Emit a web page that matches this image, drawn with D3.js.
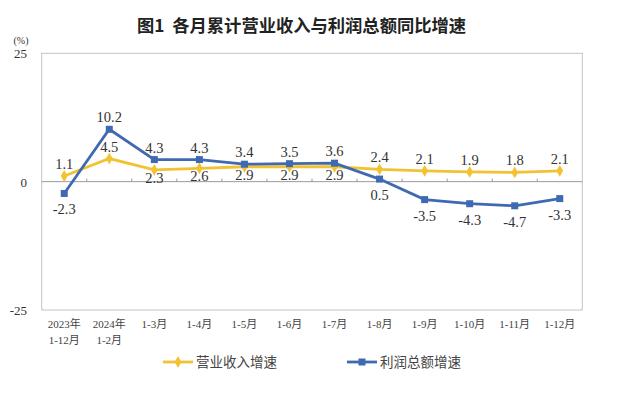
<!DOCTYPE html>
<html lang="zh">
<head>
<meta charset="utf-8">
<title>各月累计营业收入与利润总额同比增速</title>
<script src="https://cdn.jsdelivr.net/npm/d3@7/dist/d3.min.js"></script>
<style>
  body { margin: 0; background: #fff; }
  svg { display: block; }
  .title { font-family: "Noto Sans CJK SC", sans-serif; font-size: 17.3px; font-weight: 700; fill: #222; white-space: pre; }
  .num { font-family: "Liberation Serif", "DejaVu Serif", serif; fill: #333; }
  .cat { font-family: "Liberation Serif", "Noto Sans CJK SC", serif; font-size: 11px; fill: #444; }
  .leg { font-family: "Liberation Serif", "Noto Sans CJK SC", serif; font-size: 13.5px; fill: #444; }
</style>
</head>
<body>
<svg width="623" height="393"></svg>
<script>
// categories (two-line labels)
var categories = ["2023年\n1-12月", "2024年\n1-2月", "1-3月", "1-4月", "1-5月", "1-6月",
                  "1-7月", "1-8月", "1-9月", "1-10月", "1-11月", "1-12月"];
var revenue = [1.1, 4.5, 2.3, 2.6, 2.9, 2.9, 2.9, 2.4, 2.1, 1.9, 1.8, 2.1];
var profit  = [-2.3, 10.2, 4.3, 4.3, 3.4, 3.5, 3.6, 0.5, -3.5, -4.3, -4.7, -3.3];
var yTicks = [-25, 0, 25];
var seriesNames = ["营业收入增速", "利润总额增速"];

var yellow = "#f2c232", blue = "#3f6ab2";

var svg = d3.select("svg");
var plotL = 41.7, plotR = 582.3, plotT = 53.3, plotB = 310;

var x = d3.scaleBand().domain(categories).range([plotL, plotR]);
var y = d3.scaleLinear().domain([-25, 25]).range([plotB, plotT]);
var cx = function(i) { return x(categories[i]) + x.bandwidth() / 2; };

svg.append("text").attr("class", "title")
  .attr("x", 301.5).attr("y", 32).attr("text-anchor", "middle")
  .text("图1  各月累计营业收入与利润总额同比增速");

// plot frame
svg.append("rect")
  .attr("x", plotL).attr("y", plotT)
  .attr("width", plotR - plotL).attr("height", plotB - plotT)
  .attr("fill", "none").attr("stroke", "#c4c4c4").attr("stroke-width", 1);

// y axis labels
svg.append("text").attr("class", "num")
  .attr("x", 21).attr("y", 44).attr("text-anchor", "middle")
  .style("font-size", "10px").text("(%)");
svg.selectAll(".ytick").data(yTicks).enter().append("text")
  .attr("class", "num ytick")
  .attr("x", 27).attr("y", function(d) { return y(d) + 5; })
  .attr("text-anchor", "end").style("font-size", "13px")
  .text(function(d) { return d; });

// zero axis with upward ticks at category boundaries
var zero = y(0);
svg.append("line")
  .attr("x1", plotL).attr("x2", plotR).attr("y1", zero).attr("y2", zero)
  .attr("stroke", "#9a9a9a").attr("stroke-width", 1);
svg.selectAll(".zt").data(categories.slice(1)).enter().append("line")
  .attr("x1", function(d) { return x(d); }).attr("x2", function(d) { return x(d); })
  .attr("y1", zero).attr("y2", zero - 3)
  .attr("stroke", "#9a9a9a").attr("stroke-width", 1);

// category labels
var cat = svg.selectAll(".cat").data(categories).enter().append("text")
  .attr("class", "cat").attr("text-anchor", "middle");
cat.each(function(d, i) {
  var lines = d.split("\n");
  var t = d3.select(this);
  lines.forEach(function(s, k) {
    t.append("tspan").attr("x", cx(i)).attr("y", 328 + k * 16).text(s);
  });
});

// lines
var line = d3.line().x(function(d, i) { return cx(i); }).y(function(d) { return y(d); });
svg.append("path").datum(revenue).attr("d", line)
  .attr("fill", "none").attr("stroke", yellow).attr("stroke-width", 2.8);
svg.append("path").datum(profit).attr("d", line)
  .attr("fill", "none").attr("stroke", blue).attr("stroke-width", 2.8);

// markers
var diamond = d3.symbol().type(d3.symbolDiamond).size(40);
svg.selectAll(".rm").data(revenue).enter().append("path")
  .attr("class", "rm").attr("d", diamond).attr("fill", yellow)
  .attr("transform", function(d, i) { return "translate(" + cx(i) + "," + y(d) + ")"; });
svg.selectAll(".pm").data(profit).enter().append("rect")
  .attr("class", "pm")
  .attr("x", function(d, i) { return cx(i) - 3.5; })
  .attr("y", function(d) { return y(d) - 3.5; })
  .attr("width", 7).attr("height", 7).attr("fill", blue);

// data labels: higher series above, lower below unless there is room
function above(v, other) {
  if (v >= other) return true;
  return v > 0 && other - v > 3;
}
function addLabels(vals, others, belowGap) {
  svg.append("g").selectAll("text").data(vals).enter().append("text")
    .attr("class", "num").attr("text-anchor", "middle")
    .style("font-size", "14.5px")
    .attr("x", function(d, i) { return cx(i); })
    .attr("y", function(d, i) {
      return above(d, others[i]) ? y(d) - 7 : y(d) + belowGap;
    })
    .text(function(d) { return d.toFixed(1); });
}
addLabels(revenue, profit, 13);
addLabels(profit, revenue, 21);

// legend
var legend = [
  { name: seriesNames[0], color: yellow, x0: 163, marker: "d" },
  { name: seriesNames[1], color: blue, x0: 347, marker: "s" }
];
var ly = 362;
legend.forEach(function(l) {
  svg.append("line").attr("x1", l.x0).attr("x2", l.x0 + 30)
    .attr("y1", ly).attr("y2", ly).attr("stroke", l.color).attr("stroke-width", 2.8);
  if (l.marker === "d") {
    svg.append("path").attr("d", diamond).attr("fill", l.color)
      .attr("transform", "translate(" + (l.x0 + 15) + "," + ly + ")");
  } else {
    svg.append("rect").attr("x", l.x0 + 11.5).attr("y", ly - 3.5)
      .attr("width", 7).attr("height", 7).attr("fill", l.color);
  }
  svg.append("text").attr("class", "leg")
    .attr("x", l.x0 + 33).attr("y", ly + 5).text(l.name);
});
</script>
</body>
</html>
